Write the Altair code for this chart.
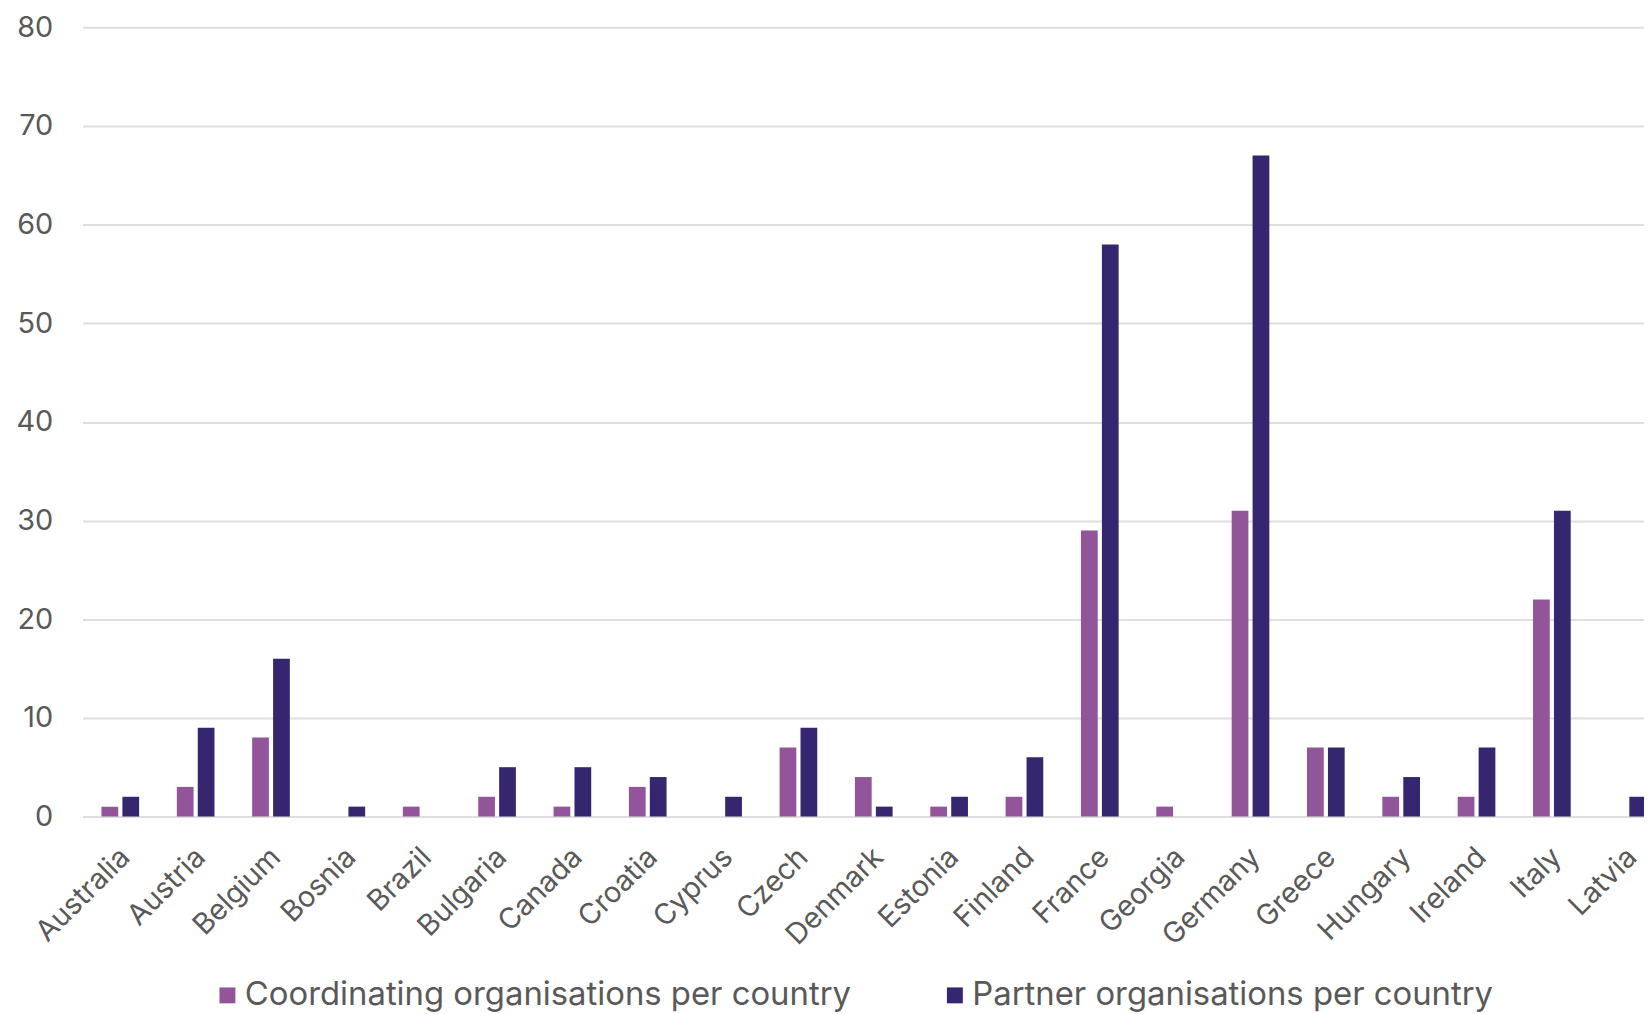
import altair as alt
import pandas as pd

countries = ["Australia", "Austria", "Belgium", "Bosnia", "Brazil", "Bulgaria", "Canada",
             "Croatia", "Cyprus", "Czech", "Denmark", "Estonia", "Finland", "France",
             "Georgia", "Germany", "Greece", "Hungary", "Ireland", "Italy", "Latvia"]
coordinating = [1, 3, 8, 0, 1, 2, 1, 3, 0, 7, 4, 1, 2, 29, 1, 31, 7, 2, 2, 22, 0]
partner = [2, 9, 16, 1, 0, 5, 5, 4, 2, 9, 1, 2, 6, 58, 0, 67, 7, 4, 7, 31, 2]
series_names = ["Coordinating organisations per country", "Partner organisations per country"]
series_colors = ["#93559a", "#35266f"]
y_ticks = [0, 10, 20, 30, 40, 50, 60, 70, 80]

rows = []
for c, a, b in zip(countries, coordinating, partner):
    rows.append({"country": c, "series": series_names[0], "value": a})
    rows.append({"country": c, "series": series_names[1], "value": b})
df = pd.DataFrame(rows)

FONT = "Inter"
TXT = "#595959"

chart = alt.Chart(df).mark_bar().encode(
    x=alt.X("country:N", sort=countries, title=None,
            scale=alt.Scale(range=[0, 1590], paddingInner=0.5, paddingOuter=0.25),
            axis=alt.Axis(labelAngle=315, labelFontSize=29, labelColor=TXT, labelFont=FONT,
                          labelPadding=26, labelOffset=-5, domain=False, ticks=False, grid=False,
                          labelOverlap=False, labelLimit=300)),
    xOffset=alt.XOffset("series:N", sort=series_names, scale=alt.Scale(paddingInner=0.2)),
    y=alt.Y("value:Q", title=None, scale=alt.Scale(domain=[0, 80], nice=False),
            axis=alt.Axis(values=y_ticks, labelFontSize=29, labelColor=TXT, labelFont=FONT,
                          labelPadding=30, domain=False, ticks=False, grid=True,
                          gridColor="#dedede", gridWidth=2)),
    color=alt.Color("series:N", sort=series_names,
                    scale=alt.Scale(domain=series_names, range=series_colors),
                    legend=alt.Legend(title=None, orient="none", legendX=129, legendY=956,
                                      direction="horizontal", symbolType="square",
                                      symbolSize=256, symbolStrokeWidth=0,
                                      labelFontSize=33, labelFont=FONT, labelColor=TXT,
                                      labelOffset=1, columnPadding=87, padding=0,
                                      labelLimit=1000)),
).properties(
    width=1569, height=793,
    autosize=alt.AutoSizeParams(type="none"),
    padding={"left": 75, "top": 17, "right": 0, "bottom": 196},
).configure_view(stroke=None)

chart.save("out.html", embed_options={"renderer": "svg", "actions": False})
